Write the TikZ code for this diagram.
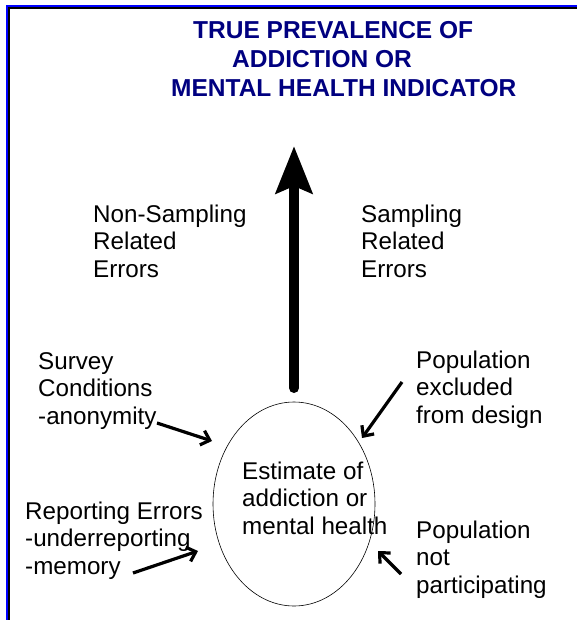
\documentclass[tikz,border=0pt]{standalone}
\usepackage{fontspec}
\setmainfont{Liberation Sans}
\usetikzlibrary{arrows.meta,shapes.geometric}
\definecolor{titlenavy}{RGB}{0,0,128}
\definecolor{frameblue}{RGB}{0,0,255}
\begin{document}
\begin{tikzpicture}[x=1pt,y=-1pt,
  titletext/.style={anchor=base west, inner sep=0pt, text=titlenavy,
    font=\fontsize{24.5}{29}\selectfont\bfseries},
  label/.style={anchor=base west, inner sep=0pt, align=left,
    font=\fontsize{24.2}{27.5}\selectfont},
  pointer/.style={line width=3.2pt,
    -{Straight Barb[length=8pt,width=15pt,line width=3.2pt]}},
  mainarrow/.style={line width=10pt, line cap=round,
    -{Stealth[length=47pt,width=36pt,inset=7pt]}}]
\useasboundingbox (0,0) rectangle (577,620);
% frame: blue outer rule with a black inner rule, left and top sides
\draw[frameblue, line width=2pt] (7,620) -- (7,6) -- (577,6);
\draw[black, line width=2pt] (9,620) -- (9,8) -- (577,8);

% title
\node[titletext] (t1) at (193,39) {TRUE PREVALENCE OF};
\node[titletext] (t2) at (232,68) {ADDICTION OR};
\node[titletext] (t3) at (171,97) {MENTAL HEALTH INDICATOR};

% central estimate (label positions give the baseline of the last line)
\node[ellipse, draw, line width=0.6pt, minimum width=162pt, minimum height=204pt,
  inner sep=0pt] (est) at (294,504) {};
\node[label] (esttext) at (242,534) {Estimate of\\addiction or\\mental health};

% main vertical arrow
\coordinate (arrbase) at (294,388);
\coordinate (arrtip) at (294,146);
\draw[mainarrow] (arrbase) -- (arrtip);

% error categories
\node[label] (nonsamp) at (93,277) {Non-Sampling\\Related\\Errors};
\node[label] (samp) at (361,277) {Sampling\\Related\\Errors};

% error sources
\node[label] (survey) at (38,424) {Survey\\Conditions\\-anonymity};
\node[label] (excluded) at (416,423) {Population\\excluded\\from design};
\node[label] (reporting) at (25,574) {Reporting Errors\\-underreporting\\-memory};
\node[label] (notpart) at (416,593) {Population\\not\\participating};

% pointers towards the estimate
\coordinate (s1) at (157,423);
\coordinate (e1) at (212,441);
\coordinate (s2) at (402,382);
\coordinate (e2) at (362,438);
\coordinate (s3) at (133,573);
\coordinate (e3) at (198,551);
\coordinate (s4) at (401,574);
\coordinate (e4) at (378,551);
\draw[pointer] (s1) -- (e1);
\draw[pointer] (s2) -- (e2);
\draw[pointer] (s3) -- (e3);
\draw[pointer] (s4) -- (e4);
\end{tikzpicture}
\end{document}
